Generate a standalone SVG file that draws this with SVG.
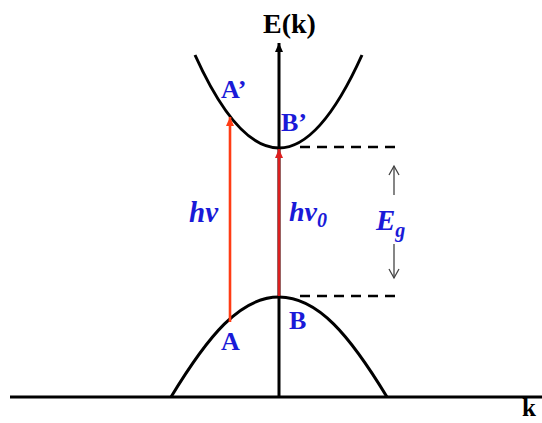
<svg xmlns="http://www.w3.org/2000/svg" width="542" height="423" viewBox="0 0 542 423">
<defs>
<style>
.curve{fill:none;stroke:#000;stroke-width:3}
.axis{fill:none;stroke:#000;stroke-width:3}
.dash{fill:none;stroke:#000;stroke-width:2.5;stroke-dasharray:10 7}
.red1{fill:none;stroke:#ff3c14;stroke-width:2.6}
.red2{fill:none;stroke:#dc1e1e;stroke-width:2.6}
.thin{fill:none;stroke:#444;stroke-width:1.3}
.lbl{font-family:"Liberation Serif","Times New Roman",serif;font-weight:bold;fill:#1a1ad8}
.ital{font-style:italic}
.blk{font-family:"Liberation Serif","Times New Roman",serif;font-weight:bold;fill:#000}
</style>
<marker id="ahBlack" markerWidth="10" markerHeight="10" refX="9" refY="5" orient="auto" markerUnits="userSpaceOnUse">
<path d="M0,1 L9,5 L0,9 Z" fill="#000"/>
</marker>
<marker id="ahRed1" markerWidth="10" markerHeight="10" refX="9" refY="5" orient="auto" markerUnits="userSpaceOnUse">
<path d="M0,1 L9,5 L0,9 Z" fill="#ff3c14"/>
</marker>
<marker id="ahRed2" markerWidth="10" markerHeight="10" refX="9" refY="5" orient="auto" markerUnits="userSpaceOnUse">
<path d="M0,1 L9,5 L0,9 Z" fill="#dc1e1e"/>
</marker>
<marker id="ahOpen" markerWidth="12" markerHeight="12" refX="10" refY="6" orient="auto" markerUnits="userSpaceOnUse">
<path d="M1,1 L10,6 L1,11" fill="none" stroke="#444" stroke-width="1.3"/>
</marker>
</defs>

<g id="axes">
<line class="axis" x1="10" y1="397" x2="542" y2="397"/>
<line class="axis" x1="279" y1="397" x2="279" y2="43" marker-end="url(#ahBlack)"/>
<text class="blk" x="263" y="33" font-size="28">E(k)</text>
<text class="blk" x="522" y="416" font-size="25">k</text>
</g>

<g id="conduction-band">
<path class="curve" d="M195,55 Q237,148 279,148 Q320,148 362,55"/>
<text class="lbl" x="221" y="98" font-size="26">A’</text>
<text class="lbl" x="281" y="131" font-size="26">B’</text>
</g>

<g id="valence-band">
<path class="curve" d="M171,397 C208,336 240,297 279,297 C318,297 350,336 387,397"/>
<text class="lbl" x="221" y="350" font-size="26">A</text>
<text class="lbl" x="289" y="329" font-size="26">B</text>
</g>

<g id="connectors">
<line class="red1" x1="230" y1="322" x2="230" y2="117" marker-end="url(#ahRed1)"/>
<line class="red2" x1="279" y1="296" x2="279" y2="149" marker-end="url(#ahRed2)"/>
<line class="dash" x1="300" y1="147" x2="402" y2="147"/>
<line class="dash" x1="300" y1="296" x2="402" y2="296"/>
<line class="thin" x1="394" y1="195" x2="394" y2="166" marker-end="url(#ahOpen)"/>
<line class="thin" x1="394" y1="244" x2="394" y2="278" marker-end="url(#ahOpen)"/>
</g>

<g id="labels">
<text class="lbl ital" x="189" y="222" font-size="29">hv</text>
<text class="lbl ital" x="289" y="221" font-size="28">hv<tspan font-size="20" dy="6">0</tspan></text>
<text class="lbl ital" x="376" y="230" font-size="29">E<tspan font-size="20" dy="7">g</tspan></text>
</g>
</svg>
